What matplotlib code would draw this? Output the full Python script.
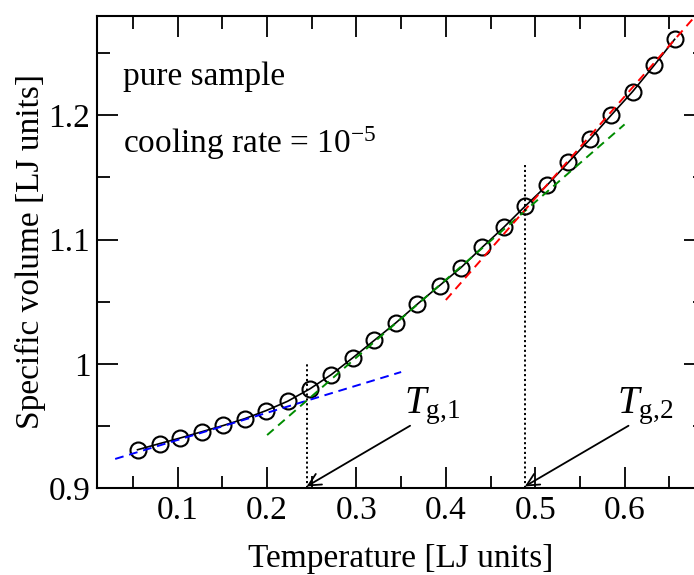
import numpy as np
import matplotlib
matplotlib.use("Agg")
import matplotlib.pyplot as plt

plt.rcParams['font.family'] = ['Liberation Serif', 'DejaVu Serif']
plt.rcParams['mathtext.fontset'] = 'custom'
plt.rcParams['mathtext.rm'] = 'Liberation Serif'
plt.rcParams['mathtext.it'] = 'Liberation Serif:italic'
plt.rcParams['font.size'] = 24

# data
temp = [0.055, 0.080, 0.103, 0.127, 0.151, 0.175, 0.199, 0.223, 0.248, 0.272,
        0.296, 0.320, 0.344, 0.368, 0.393, 0.417, 0.441, 0.465, 0.489, 0.513,
        0.537, 0.561, 0.585, 0.609, 0.633, 0.656]
vol = [0.9310, 0.9360, 0.9405, 0.9455, 0.9505, 0.9560, 0.9625, 0.9700, 0.9800, 0.9915,
       1.0050, 1.0190, 1.0330, 1.0480, 1.0630, 1.0775, 1.0940, 1.1100, 1.1270, 1.1435,
       1.1620, 1.1805, 1.2000, 1.2190, 1.2400, 1.2610]

# linear fits (end points)
fit_low_T = [0.03, 0.35]
fit_low_v = [0.9236, 0.9935]
fit_mid_T = [0.20, 0.60]
fit_mid_v = [0.9428, 1.1926]
fit_high_T = [0.40, 0.69]
fit_high_v = [1.0514, 1.2886]

# glass transitions
tg = [0.2442, 0.4884]
tg_top = [1.0007, 1.1605]
tg_names = ['$T_{\\rm g{,}1}$', '$T_{\\rm g{,}2}$']
arrow_tail = [(0.360, 0.9503), (0.6044, 0.9503)]
label_pos = [(0.3535, 0.9605), (0.591, 0.9605)]

fig = plt.figure(figsize=(6.94, 5.75), dpi=100)
ax = fig.add_axes([97.3/694, 1 - 488.3/575, (705 - 97.3)/694, (488.3 - 15.7)/575])

ax.plot(temp, vol, '-', color='black', lw=1.2, marker='o', markersize=11.5,
        markerfacecolor='none', markeredgecolor='black', markeredgewidth=1.5)

ax.plot(fit_low_T, fit_low_v, color='#0000ff', lw=1.4, dashes=(4.5, 3))
ax.plot(fit_mid_T, fit_mid_v, color='#008c00', lw=1.4, dashes=(4.5, 3))
ax.plot(fit_high_T, fit_high_v, color='#ff0000', lw=1.4, dashes=(4.5, 3))

for i in range(2):
    ax.plot([tg[i], tg[i]], [0.9, tg_top[i]], color='black', lw=1.4,
            dashes=(1.1, 1.4))
    ax.annotate('', xy=(tg[i], 0.9015), xytext=arrow_tail[i],
                arrowprops=dict(arrowstyle='->', color='black', lw=1.3,
                                mutation_scale=22, shrinkA=0, shrinkB=0))
    ax.text(label_pos[i][0], label_pos[i][1], tg_names[i], fontsize=28,
            ha='left', va='baseline')

ax.text(0.0384, 1.2242, 'pure sample', fontsize=24, ha='left', va='baseline')
ax.text(0.0384, 1.1695, 'cooling rate = 10$^{-5}$', fontsize=24,
        ha='left', va='baseline')

ax.set_xlim(0.01, 0.69)
ax.set_ylim(0.9, 1.28)
ax.set_xticks([0.1, 0.2, 0.3, 0.4, 0.5, 0.6])
ax.set_xticks(np.arange(0.05, 0.69, 0.1), minor=True)
ax.set_yticks([0.9, 1.0, 1.1, 1.2])
ax.set_yticklabels(['0.9', '1', '1.1', '1.2'])
ax.set_yticks([0.95, 1.05, 1.15, 1.25], minor=True)
ax.tick_params(which='both', direction='in', top=True, right=True, width=1.3)
ax.tick_params(which='major', length=15)
ax.tick_params(which='minor', length=9)
ax.tick_params(axis='x', which='major', pad=5, labelsize=24)
ax.tick_params(axis='y', which='major', pad=5, labelsize=24)
for s in ax.spines.values():
    s.set_linewidth(1.5)

ax.set_xlabel('Temperature [LJ units]', fontsize=24, labelpad=13)
ax.set_ylabel('Specific volume [LJ units]', fontsize=24, labelpad=2)

fig.savefig('out.png', dpi=100)
